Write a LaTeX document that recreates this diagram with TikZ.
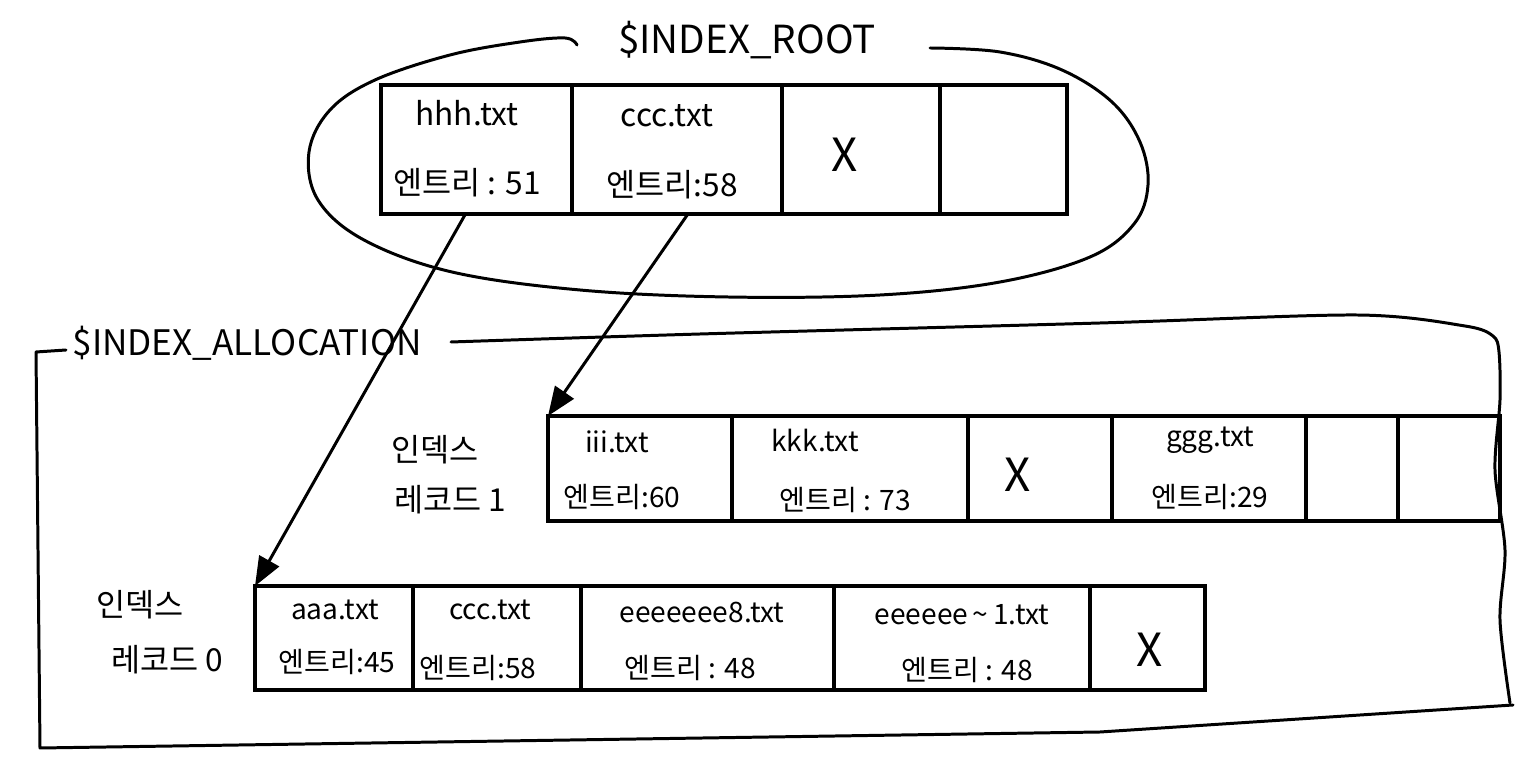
\documentclass[tikz,border=0pt]{standalone}
\usepackage{fontspec}
\setmainfont{Noto Sans CJK KR}
\usetikzlibrary{arrows.meta}
\tikzset{
  x=0.02cm, y=-0.02cm,
  cell/.style={draw, line width=2.1pt, inner sep=0pt, outer sep=0pt, anchor=north west},
  rootcell/.style={cell, minimum height=2.58cm},
  rec1cell/.style={cell, minimum height=2.1cm},
  rec0cell/.style={cell, minimum height=2.08cm},
  rtxt/.style={font=\fontsize{18}{20}\selectfont, inner sep=0pt},
  ctxt/.style={font=\fontsize{16}{18}\selectfont, inner sep=0pt},
  lbl/.style={font=\fontsize{18}{20}\selectfont, inner sep=0pt},
  xmark/.style={font=\fontsize{26}{28}\selectfont, inner sep=0pt},
  title/.style={font=\fontsize{22}{24}\selectfont, inner sep=0pt},
  frame/.style={line width=1.7pt, line cap=round, line join=round},
  arr/.style={line width=1.7pt, -{Triangle[length=0.58cm, width=0.45cm]}}
}
\begin{document}
\begin{tikzpicture}
\useasboundingbox (0,0) rectangle (1519,766);
\fill[white] (0,0) rectangle (1519,766);

% INDEX_ROOT ellipse (open at the title)
\draw[frame] plot[smooth, tension=0.6] coordinates {
  (930,48) (1000,52) (1062,70) (1112,102) (1140,142) (1148,185) (1134,224)
  (1090,257) (1000,282) (880,295) (728,297) (580,290) (452,272) (364,240)
  (318,200) (309,152) (330,110) (375,80) (450,55) (520,42) (565,38) (577,45)};
\node[title] (roottitle) at (747,40) {\$INDEX\_ROOT};

% INDEX_ALLOCATION frame (open at the title)
\draw[frame] (66,350) -- (36,352) -- (38,550) -- (40,748) -- (1100,732) -- (1513,705);
\draw[frame] plot[smooth, tension=0.5] coordinates {
  (451,342) (700,334) (1100,323) (1357,315) (1465,326) (1493,336) (1499,352)
  (1500,400) (1495,470) (1505,550) (1500,620) (1510,703)};
\node[title, font=\fontsize{20}{22}\selectfont] (alloctitle) at (247,343) {\$INDEX\_ALLOCATION};

% root table
\node[rootcell, minimum width=3.82cm] (r1) at (381,85) {};
\node[rootcell, minimum width=4.2cm] (r2) at (r1.north east) {};
\node[rootcell, minimum width=3.16cm] (r3) at (r2.north east) {};
\node[rootcell, minimum width=2.54cm] (r4) at (r3.north east) {};
\node[rtxt] (r1a) at (467,113) {hhh.txt};
\node[rtxt] (r1b) at (467,183) {엔트리 : 51};
\node[rtxt] (r2a) at (667,116) {ccc.txt};
\node[rtxt] (r2b) at (672,185) {엔트리:58};
\node[xmark] (r3x) at (845,155) {X};

% index record 1
\node[lbl] (l1a) at (435,450) {인덱스};
\node[lbl] (l1b) at (450,500) {레코드 1};
\node[rec1cell, minimum width=3.68cm] (b1) at (548,416) {};
\node[rec1cell, minimum width=4.72cm] (b2) at (b1.north east) {};
\node[rec1cell, minimum width=2.88cm] (b3) at (b2.north east) {};
\node[rec1cell, minimum width=3.88cm] (b4) at (b3.north east) {};
\node[rec1cell, minimum width=1.84cm] (b5) at (b4.north east) {};
\node[rec1cell, minimum width=2.04cm] (b6) at (b5.north east) {};
\node[ctxt] (b1a) at (617,442) {iii.txt};
\node[ctxt] (b1b) at (622,497) {엔트리:60};
\node[ctxt] (b2a) at (815,440) {kkk.txt};
\node[ctxt] (b2b) at (845,500) {엔트리 : 73};
\node[xmark] (b3x) at (1018,475) {X};
\node[ctxt] (b4a) at (1210,440) {ggg.txt};
\node[ctxt] (b4b) at (1210,497) {엔트리:29};

% index record 0
\node[lbl] (l0a) at (140,605) {인덱스};
\node[lbl] (l0b) at (167,660) {레코드 0};
\node[rec0cell, minimum width=3.16cm] (a1) at (255,586) {};
\node[rec0cell, minimum width=3.36cm] (a2) at (a1.north east) {};
\node[rec0cell, minimum width=5.06cm] (a3) at (a2.north east) {};
\node[rec0cell, minimum width=5.12cm] (a4) at (a3.north east) {};
\node[rec0cell, minimum width=2.3cm] (a5) at (a4.north east) {};
\node[ctxt] (a1a) at (335,610) {aaa.txt};
\node[ctxt] (a1b) at (337,662) {엔트리:45};
\node[ctxt] (a2a) at (490,610) {ccc.txt};
\node[ctxt] (a2b) at (478,668) {엔트리:58};
\node[ctxt] (a3a) at (702,612) {eeeeeee8.txt};
\node[ctxt] (a3b) at (690,668) {엔트리 : 48};
\node[ctxt] (a4a) at (962,615) {eeeeee\,\char"007E\,1.txt};
\node[ctxt] (a4b) at (967,670) {엔트리 : 48};
\node[xmark] (a5x) at (1150,650) {X};

% pointers
\draw[arr] ([xshift=-0.22cm]r1.south) -- (a1.north west);
\draw[arr] ([xshift=0.22cm]r2.south) -- (b1.north west);
\end{tikzpicture}
\end{document}
